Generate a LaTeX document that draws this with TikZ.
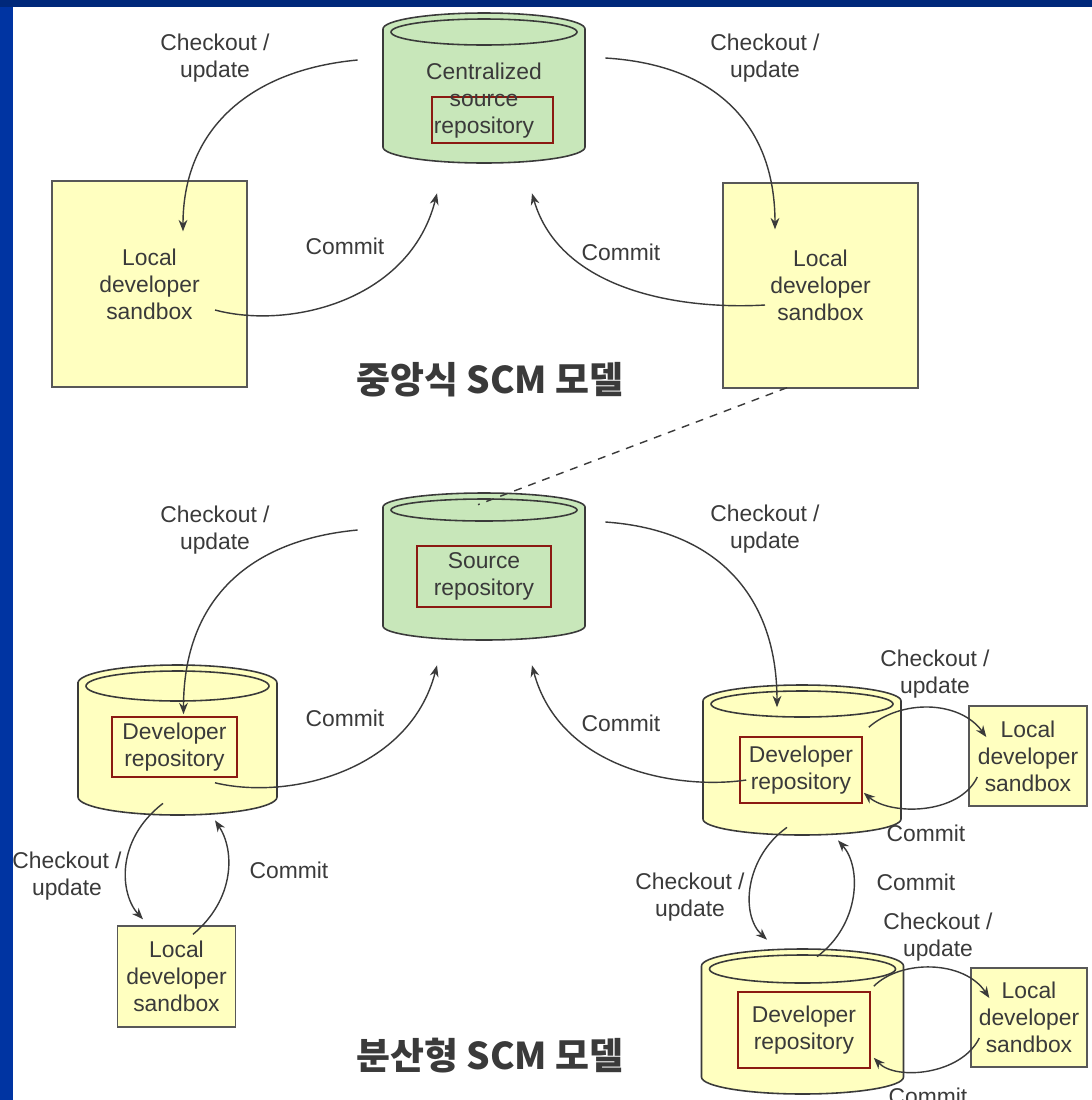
\documentclass[tikz,border=0pt]{standalone}
\usepackage{fontspec}
\setmainfont{Liberation Sans}
\newfontfamily\korfont{Noto Sans CJK KR}
\usetikzlibrary{arrows.meta,fit}

\definecolor{slideblue}{HTML}{0034A2}
\definecolor{slidenavy}{HTML}{00287A}
\definecolor{repogreen}{HTML}{C8E7BA}
\definecolor{sandyellow}{HTML}{FFFFC0}
\definecolor{boxred}{HTML}{8B1A12}
\definecolor{inkgray}{HTML}{3A3A3A}

\tikzset{
  drumline/.style={draw=inkgray, line width=0.9pt},
  sandbox/.style={draw=inkgray!85, line width=0.8pt, fill=sandyellow, align=center, inner sep=0pt, text=inkgray, font=\fontsize{13}{15.4}\selectfont},
  redbox/.style={draw=boxred, line width=0.9pt, align=center, inner sep=0pt, text=inkgray, font=\fontsize{13}{15.4}\selectfont},
  flowlabel/.style={align=center, inner sep=0pt, text=inkgray, font=\fontsize{13}{15.4}\selectfont},
  modeltitle/.style={inner sep=0pt, text=inkgray, font=\korfont\bfseries\fontsize{21}{25}\selectfont},
  flow/.style={draw=inkgray, line width=0.8pt, -{Stealth[length=6.5pt,width=5pt]}},
}

% name, centre x, top y, bottom y, half width, y radius, fill
\newcommand{\repodrum}[7]{%
  \filldraw[drumline, fill=#7] (#2-#5,#3) -- (#2-#5,#4) arc[start angle=180, end angle=0, x radius=#5, y radius=#6]
    -- (#2+#5,#3) arc[start angle=0, end angle=-180, x radius=#5, y radius=#6] -- cycle;
  \draw[drumline] (#2,#3+3) ellipse[x radius=#5-8, y radius=#6-3];
  \node[fit={(#2-#5,#3) (#2+#5,#4)}, inner sep=0pt] (#1) {};
}

\begin{document}
\begin{tikzpicture}[x=0.02cm, y=-0.02cm]
  \useasboundingbox (0,0) rectangle (1092,1100);
  \clip (0,0) rectangle (1092,1100);
  \fill[slideblue] (0,0) rectangle (1092,1100);
  \fill[slidenavy] (0,0) rectangle (1092,7);
  \fill[white] (13,7) rectangle (1092,1100);

  % centralized model
  \repodrum{cylC}{484}{29}{147}{101}{16}{repogreen}
  \node[redbox, minimum width=2.42cm, minimum height=0.92cm] (boxC) at (492.5,120) {};
  \node[flowlabel] (txtC) at (484,101) {Centralized\\source\\repository};
  \node[sandbox, minimum width=3.9cm, minimum height=4.12cm] (sandL) at (149.5,284) {Local\\developer\\sandbox};
  \node[sandbox, minimum width=3.9cm, minimum height=4.1cm] (sandR) at (820.5,285.5) {Local\\developer\\sandbox};

  \node[flowlabel] (chkCL) at (215,58.5) {Checkout /\\update};
  \node[flowlabel] (chkCR) at (765,58) {Checkout /\\update};
  \node[flowlabel] (cmtCL) at (345,246) {Commit};
  \node[flowlabel] (cmtCR) at (621,252) {Commit};
  \node[modeltitle] (titleC) at (490,380) {중앙식 SCM 모델};

  \draw[flow] ([shift={(-25,-28)}]cylC.west) .. controls +(-108,10) and +(0,-102) .. ([shift={(33.5,51)}]sandL.north);
  \draw[flow] ([shift={(65.5,26)}]sandL.center) .. controls +(75,20) and +(-27,107) .. ([shift={(-47,46)}]cylC.south);
  \draw[flow] ([shift={(20,-30)}]cylC.east) .. controls +(115,7) and +(0,-100) .. ([shift={(-45.5,47)}]sandR.north);
  \draw[flow] ([shift={(-55.5,19.5)}]sandR.center) .. controls +(-85,5) and +(28,97) .. ([shift={(48,46)}]cylC.south);

  % distributed model
  \repodrum{cylS}{484}{507}{626}{101}{14}{repogreen}
  \node[redbox, minimum width=2.68cm, minimum height=1.22cm] (boxS) at (484,576.5) {Source\\repository};

  \repodrum{cylA}{177.5}{683}{797}{99.5}{18}{sandyellow}
  \node[redbox, minimum width=2.5cm, minimum height=1.2cm] (boxA) at (174.5,747) {Developer\\repository};
  \node[sandbox, minimum width=2.36cm, minimum height=2.02cm] (sandA) at (176.5,976.5) {Local\\developer\\sandbox};

  \repodrum{cylB}{802}{701}{819}{99}{16}{sandyellow}
  \node[redbox, minimum width=2.44cm, minimum height=1.32cm] (boxB) at (801,770) {Developer\\repository};
  \node[sandbox, minimum width=2.36cm, minimum height=2cm] (sandB) at (1028,756) {Local\\developer\\sandbox};

  \repodrum{cylD}{802.5}{966}{1077}{101}{17}{sandyellow}
  \node[redbox, minimum width=2.64cm, minimum height=1.52cm] (boxD) at (804,1030) {Developer\\repository};
  \node[sandbox, minimum width=2.32cm, minimum height=1.98cm] (sandD) at (1029,1017.5) {Local\\developer\\sandbox};

  \node[flowlabel] (chkSL) at (215,530) {Checkout /\\update};
  \node[flowlabel] (chkSR) at (765,529) {Checkout /\\update};
  \node[flowlabel] (cmtSL) at (345,718) {Commit};
  \node[flowlabel] (cmtSR) at (621,723) {Commit};
  \node[flowlabel] (chkAL) at (67,876) {Checkout /\\update};
  \node[flowlabel] (cmtAL) at (289,870) {Commit};
  \node[flowlabel] (chkBR) at (935,674) {Checkout /\\update};
  \node[flowlabel] (cmtBR) at (926,833) {Commit};
  \node[flowlabel] (chkBD) at (690,897) {Checkout /\\update};
  \node[flowlabel] (cmtBD) at (916,882) {Commit};
  \node[flowlabel] (chkDR) at (938,937) {Checkout /\\update};
  \node[flowlabel] (cmtDR) at (928,1096) {Commit};
  \node[modeltitle] (titleD) at (490,1056) {분산형 SCM 모델};

  \draw[flow] ([shift={(-25,-36.5)}]cylS.west) .. controls +(-108,10) and +(0,-115) .. ([shift={(9,-2)}]boxA.north);
  \draw[flow] ([shift={(40.5,5)}]boxA.south) .. controls +(75,18) and +(-27,105) .. ([shift={(-47,39)}]cylS.south);
  \draw[flow] ([shift={(20,-44.5)}]cylS.east) .. controls +(115,8) and +(0,-108) .. ([shift={(-24,-29)}]boxB.north);
  \draw[flow] ([shift={(7,10)}]boxB.west) .. controls +(-67,10) and +(28,105) .. ([shift={(48,39)}]cylS.south);

  \draw[flow] ([shift={(-14.5,6)}]cylA.south) .. controls +(-48,37) and +(-23,-25) .. ([shift={(-33.5,-6)}]sandA.north);
  \draw[flow] ([shift={(16.5,9)}]sandA.north) .. controls +(42,-35) and +(20,30) .. ([shift={(37.5,23)}]cylA.south);

  \draw[flow] ([shift={(6,-9)}]boxB.north east) .. controls +(32,-28) and +(-27,-37) .. ([shift={(18,-19)}]sandB.west);
  \draw[flow] ([shift={(9,21)}]sandB.west) .. controls +(-18,38) and +(27,23) .. ([shift={(1,-11)}]boxB.south east);

  \draw[flow] ([shift={(-15,8)}]cylB.south) .. controls +(-42,30) and +(-27,-25) .. ([shift={(-35.5,-26)}]cylD.north);
  \draw[flow] ([shift={(14.5,-9)}]cylD.north) .. controls +(43,-32) and +(24,27) .. ([shift={(36,21)}]cylB.south);

  \draw[flow] ([shift={(3,-5)}]boxD.north east) .. controls +(27,-27) and +(-25,-38) .. ([shift={(19,-19.5)}]sandD.west);
  \draw[flow] ([shift={(9,20.5)}]sandD.west) .. controls +(-18,37) and +(22,23) .. ([shift={(3,-11)}]boxD.south east);

  \draw[inkgray, line width=0.8pt, dash pattern=on 4.5pt off 4pt] ([shift={(-33.5,-1)}]sandR.south) -- ([shift={(-6,-2)}]cylS.north);
\end{tikzpicture}
\end{document}
